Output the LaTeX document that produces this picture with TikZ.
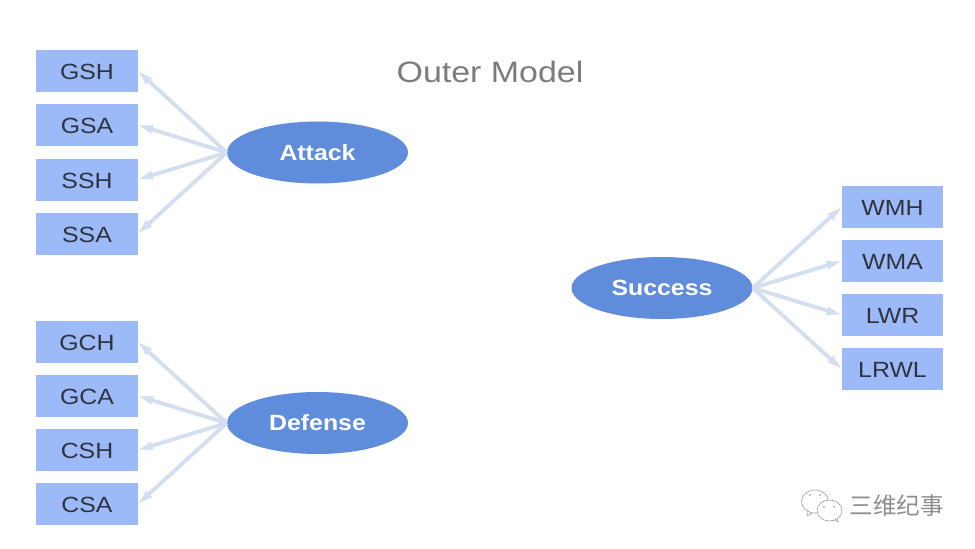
\documentclass[tikz,border=0pt]{standalone}
\usepackage{fontspec}
\setmainfont{Liberation Sans}
\newfontfamily\cjk{Noto Sans CJK SC}
\usetikzlibrary{arrows.meta,shapes.geometric}
\definecolor{boxfill}{HTML}{9DBAF8}
\definecolor{ellfill}{HTML}{5F8DDB}
\definecolor{linkcol}{HTML}{D3DFF0}
\definecolor{inktext}{HTML}{2F3340}
\definecolor{titlecol}{HTML}{7F7B78}
\definecolor{markcol}{HTML}{8E8E8E}
\newcommand{\wider}[2]{\scalebox{#1}[1]{#2}}
\tikzset{
  x=1pt,y=-1pt,
  obsbox/.style={fill=boxfill,draw=none,minimum width=101.5pt,minimum height=42pt,inner sep=0pt,
    text height=17pt,text depth=0pt,
    font=\fontsize{22}{24}\selectfont,text=inktext},
  latent/.style={shape=ellipse,fill=ellfill,draw=none,minimum width=181pt,minimum height=62pt,inner sep=0pt,
    font=\fontsize{22}{24}\selectfont\bfseries,text=white},
  linkarrow/.style={draw=linkcol,line width=3.8pt,-{Latex[length=18pt,width=9.5pt]},shorten >=-3pt},
}
\begin{document}
\begin{tikzpicture}
\useasboundingbox (0,0) rectangle (975,549);
\fill[white] (0,0) rectangle (975,549);
\node[font=\fontsize{29.5}{32}\selectfont,text=titlecol] (title) at (490,72) {\wider{1.15}{Outer Model}};

\node[obsbox] (gsh) at (87,71) {\wider{1.13}{GSH}};
\node[obsbox] (gsa) at (87,125) {\wider{1.13}{GSA}};
\node[obsbox] (ssh) at (87,179.5) {\wider{1.13}{SSH}};
\node[obsbox] (ssa) at (87,233.5) {\wider{1.13}{SSA}};
\node[obsbox] (gch) at (87,342) {\wider{1.13}{GCH}};
\node[obsbox] (gca) at (87,396) {\wider{1.13}{GCA}};
\node[obsbox] (csh) at (87,450) {\wider{1.13}{CSH}};
\node[obsbox] (csa) at (87,504) {\wider{1.13}{CSA}};
\node[obsbox] (wmh) at (892.5,207) {\wider{1.13}{WMH}};
\node[obsbox] (wma) at (892.5,261) {\wider{1.13}{WMA}};
\node[obsbox] (lwr) at (892.5,315) {\wider{1.13}{LWR}};
\node[obsbox] (lrwl) at (892.5,369) {\wider{1.13}{LRWL}};

\node[latent] (attack) at (317.5,152.5) {\wider{1.13}{Attack}};
\node[latent] (defense) at (317.5,423) {\wider{1.13}{Defense}};
\node[latent] (success) at (662,288) {\wider{1.13}{Success}};

\foreach \t in {gsh,gsa,ssh,ssa} \draw[linkarrow] (attack.west) -- (\t.east);
\foreach \t in {gch,gca,csh,csa} \draw[linkarrow] (defense.west) -- (\t.east);
\foreach \t in {wmh,wma,lwr,lrwl} \draw[linkarrow] (success.east) -- (\t.west);

\node[font=\fontsize{23.5}{26}\selectfont\cjk,text=markcol] (mark) at (896.5,506) {三维纪事};
\begin{scope}[draw=markcol,line width=0.5pt,fill=white]
  \draw (815,501.5) ellipse (13.5 and 11.5);
  \draw (807,511) -- (807,516) -- (812,513);
  \filldraw (829.5,510.5) ellipse (12.5 and 10.5);
  \draw (835,520) -- (838,522) -- (837.5,518.5);
  \fill[markcol] (810,495) circle (0.9) (820,495) circle (0.9) (824,507) circle (0.9) (834,507) circle (0.9);
\end{scope}
\end{tikzpicture}
\end{document}
